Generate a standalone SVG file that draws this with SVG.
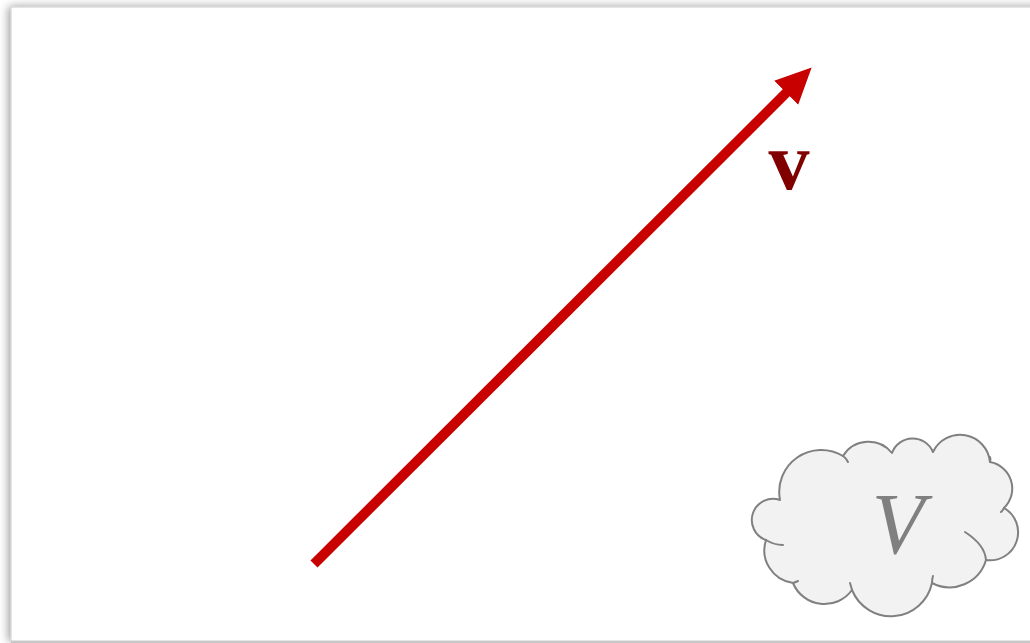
<svg xmlns="http://www.w3.org/2000/svg" width="1030" height="643" viewBox="0 0 1030 643">
<style>
.cloud{fill:#f2f2f2;stroke:#808080;stroke-width:2;stroke-linejoin:round}
.tail{fill:none;stroke:#808080;stroke-width:2;stroke-linecap:round}
.vec{stroke:#c80000;stroke-width:10;fill:none}
.vlab{font-family:"Liberation Serif",serif;font-weight:bold;font-size:82px;fill:#800000}
.Vlab{font-family:"Liberation Serif",serif;font-style:italic;font-size:86px;fill:#808080}
</style>
<defs>
<filter id="sh" x="-5%" y="-5%" width="110%" height="110%">
<feGaussianBlur in="SourceAlpha" stdDeviation="5"/>
<feOffset dx="-2" dy="0" result="b"/>
<feComponentTransfer><feFuncA type="linear" slope="0.4"/></feComponentTransfer>
<feMerge><feMergeNode/><feMergeNode in="SourceGraphic"/></feMerge>
</filter>
<marker id="ah" markerUnits="userSpaceOnUse" markerWidth="40" markerHeight="40" refX="4" refY="17" orient="auto" viewBox="0 0 40 34">
<path d="M0,0 L36,17 L0,34 Z" fill="#c80000"/>
</marker>
</defs>
<rect x="0" y="0" width="1030" height="643" fill="#ffffff"/>
<rect x="11" y="7" width="1040" height="634" fill="#ffffff" stroke="#cccccc" stroke-width="1" filter="url(#sh)"/>
<rect x="11" y="641" width="1030" height="2" fill="#c8c8c8"/>
<g id="connectors">
<line class="vec" x1="314" y1="564" x2="789" y2="90" marker-end="url(#ah)"/>
</g>
<g id="label-v">
<text class="vlab" x="789" y="189" text-anchor="middle">v</text>
</g>
<g id="cloud-V">
<path class="cloud" d="M780,500 A42,42 0 0 1 843,456 A30,30 0 0 1 892,453 A22,22 0 0 1 933,452 A30,30 0 0 1 990,462 A27,27 0 0 1 1004,508 A28,28 0 0 1 986,560 A38,38 0 0 1 932,583 A42,42 0 0 1 852,590 A34,34 0 0 1 793,583 A33,33 0 0 1 766,540 A21,21 0 0 1 780,500 Z"/>
<path class="tail" d="M843,456 Q846,458 848,462"/>
<path class="tail" d="M766,540 Q774,545 783,545"/>
<path class="tail" d="M965,532 Q985,545 986,560"/>
<path class="tail" d="M990,462 Q991,459 990,457"/>
<path class="tail" d="M1004,508 Q1003,510 1001,512"/>
<path class="tail" d="M932,583 Q932,579 933,576"/>
<path class="tail" d="M852,590 Q851,586 850,583"/>
<path class="tail" d="M793,583 Q796,582 798,581"/>
<text class="Vlab" x="898" y="553" text-anchor="middle">V</text>
</g>
</svg>
